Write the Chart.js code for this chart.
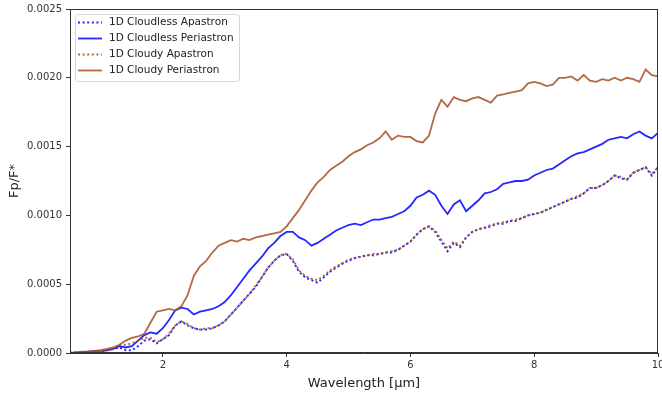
<!DOCTYPE html>
<html>
<head>
<meta charset="utf-8">
<script src="https://cdn.jsdelivr.net/npm/chart.js@4/dist/chart.umd.min.js"></script>
<style>
  html, body { margin: 0; padding: 0; background: #fff; }
  #wrap { width: 662px; height: 394px; position: relative; }
</style>
</head>
<body>
<div id="wrap"><canvas id="c" width="662" height="394"></canvas></div>
<script>
// Wavelength grid (micron)
const wavelength = [0.5,0.6,0.7,0.8,0.9,1.0,1.1,1.2,1.3,1.4,1.5,1.6,1.7,1.8,1.9,2.0,2.1,2.2,2.3,2.4,2.5,2.6,2.7,2.8,2.9,3.0,3.1,3.2,3.3,3.4,3.5,3.6,3.7,3.8,3.9,4.0,4.1,4.2,4.3,4.4,4.5,4.6,4.7,4.8,4.9,5.0,5.1,5.2,5.3,5.4,5.5,5.6,5.7,5.8,5.9,6.0,6.1,6.2,6.3,6.4,6.5,6.6,6.7,6.8,6.9,7.0,7.1,7.2,7.3,7.4,7.5,7.6,7.7,7.8,7.9,8.0,8.1,8.2,8.3,8.4,8.5,8.6,8.7,8.8,8.9,9.0,9.1,9.2,9.3,9.4,9.5,9.6,9.7,9.8,9.9,10.0];

const cloudlessApastron = [0,0.000003,0.000005,0.000008,0.00001,
  0.000014,0.00002,0.00003,0.00004,0.00002,
  0.00002,0.00005,0.00009,0.0001,0.00007,
  0.0001,0.00013,0.0002,0.00023,0.0002,
  0.00018,0.00017,0.00017,0.00018,0.0002,
  0.00023,0.00028,0.00033,0.00038,0.00043,
  0.00048,0.00055,0.00062,0.00067,0.00071,
  0.00072,0.00067,0.00059,0.00055,0.00053,
  0.00051,0.00055,0.00059,0.00062,0.00065,
  0.00067,0.00069,0.0007,0.00071,0.00071,
  0.00072,0.00073,0.00073,0.00075,0.00078,
  0.00081,0.00086,0.0009,0.00092,0.00088,
  0.00081,0.00074,0.0008,0.00077,0.00084,
  0.00088,0.0009,0.00091,0.00092,0.00094,
  0.00094,0.00096,0.00096,0.00098,0.001,
  0.00101,0.00102,0.00104,0.00106,0.00108,
  0.0011,0.00112,0.00113,0.00116,0.0012,
  0.0012,0.00122,0.00125,0.00129,0.00127,
  0.00126,0.00131,0.00133,0.00135,0.00129,
  0.00135];

const cloudlessPeriastron = [0,0.000003,0.000006,0.00001,0.000013,
  0.000016,0.00002,0.00003,0.00005,0.00004,
  0.00005,0.00009,0.00013,0.00015,0.00014,
  0.00018,0.00024,0.00031,0.00033,0.00032,
  0.00028,0.0003,0.00031,0.00032,0.00034,
  0.00037,0.00042,0.00048,0.00054,0.0006,
  0.00065,0.0007,0.00076,0.0008,0.00085,
  0.00088,0.00088,0.00084,0.00082,0.00078,
  0.0008,0.00083,0.00086,0.00089,0.00091,
  0.00093,0.00094,0.00093,0.00095,0.00097,
  0.00097,0.00098,0.00099,0.00101,0.00103,
  0.00107,0.00113,0.00115,0.00118,0.00115,
  0.00107,0.00101,0.00108,0.00111,0.00103,
  0.00107,0.00111,0.00116,0.00117,0.00119,
  0.00123,0.00124,0.00125,0.00125,0.00126,
  0.00129,0.00131,0.00133,0.00134,0.00137,
  0.0014,0.00143,0.00145,0.00146,0.00148,
  0.0015,0.00152,0.00155,0.00156,0.00157,
  0.00156,0.00159,0.00161,0.00158,0.00156,
  0.0016];

const cloudyApastron = [0,0.000004,0.000006,0.000009,0.000012,
  0.000016,0.000022,0.00003,0.00006,0.00006,
  0.00007,0.00009,0.00011,0.00011,0.00008,
  0.0001,0.00014,0.0002,0.00023,0.00021,
  0.00018,0.00017,0.00018,0.00018,0.0002,
  0.00023,0.00028,0.00033,0.00038,0.00043,
  0.00049,0.00055,0.00062,0.00067,0.00071,
  0.00072,0.00068,0.0006,0.00056,0.00054,
  0.00053,0.00056,0.0006,0.00063,0.00065,
  0.00068,0.00069,0.0007,0.00071,0.00072,
  0.00072,0.00073,0.00074,0.00075,0.00078,
  0.00081,0.00086,0.0009,0.00092,0.00089,
  0.00082,0.00076,0.00081,0.00078,0.00084,
  0.00088,0.0009,0.00091,0.00093,0.00094,
  0.00095,0.00096,0.00097,0.00098,0.001,
  0.00101,0.00102,0.00104,0.00106,0.00108,
  0.0011,0.00112,0.00114,0.00116,0.0012,
  0.0012,0.00122,0.00125,0.00129,0.00128,
  0.00126,0.00131,0.00133,0.00135,0.0013,
  0.00135];

const cloudyPeriastron = [0,0.000005,0.00001,0.000012,0.000015,
  0.00002,0.00003,0.00004,0.00006,0.00009,
  0.00011,0.00012,0.00014,0.00022,0.0003,
  0.00031,0.00032,0.00031,0.00034,0.00042,
  0.00056,0.00063,0.00067,0.00073,0.00078,
  0.0008,0.00082,0.00081,0.00083,0.00082,
  0.00084,0.00085,0.00086,0.00087,0.00088,
  0.00092,0.00098,0.00104,0.00111,0.00118,
  0.00124,0.00128,0.00133,0.00136,0.00139,
  0.00143,0.00146,0.00148,0.00151,0.00153,
  0.00156,0.00161,0.00155,0.00158,0.00157,
  0.00157,0.00154,0.00153,0.00158,0.00174,
  0.00184,0.00179,0.00186,0.00184,0.00183,
  0.00185,0.00186,0.00184,0.00182,0.00187,
  0.00188,0.00189,0.0019,0.00191,0.00196,
  0.00197,0.00196,0.00194,0.00195,0.002,
  0.002,0.00201,0.00198,0.00202,0.00198,
  0.00197,0.00199,0.00198,0.002,0.00198,
  0.002,0.00199,0.00197,0.00206,0.00202,
  0.00201];

const seriesNames = ['1D Cloudless Apastron','1D Cloudless Periastron','1D Cloudy Apastron','1D Cloudy Periastron'];
const xTicks = [2,4,6,8,10];
const yTicks = [0,0.0005,0.001,0.0015,0.002,0.0025];

const BLUE = 'rgba(0,0,255,0.85)';
const BROWN = 'rgba(168,84,40,0.87)';
const DOT = [2,2.6];

function pts(ys){ return wavelength.map((w,i)=>({x:w,y:ys[i]})); }

const datasets = [
  {label:seriesNames[0], data:pts(cloudlessApastron), borderColor:BLUE, borderDash:DOT, borderWidth:2, order:3},
  {label:seriesNames[1], data:pts(cloudlessPeriastron), borderColor:BLUE, borderWidth:1.8, order:2},
  {label:seriesNames[2], data:pts(cloudyApastron), borderColor:BROWN, borderDash:DOT, borderWidth:2, order:1},
  {label:seriesNames[3], data:pts(cloudyPeriastron), borderColor:BROWN, borderWidth:1.8, order:0}
].map(d=>Object.assign({pointRadius:0, fill:false, tension:0}, d));

const FONT = "'DejaVu Sans', sans-serif";

const framePlugin = {
  id:'frame',
  afterDraw(chart){
    const {ctx, chartArea:a} = chart;
    ctx.save();
    ctx.strokeStyle = '#333';
    ctx.lineWidth = 1;
    ctx.setLineDash([]);
    ctx.strokeRect(Math.round(a.left)+0.5, Math.round(a.top)+0.5, Math.round(a.right-a.left)-1, Math.round(a.bottom-a.top)-1);
    // legend box
    const lx = 75.5, ly = 14.5, lw = 164, lh = 67, r = 3;
    ctx.beginPath();
    ctx.moveTo(lx+r, ly);
    ctx.arcTo(lx+lw, ly, lx+lw, ly+lh, r);
    ctx.arcTo(lx+lw, ly+lh, lx, ly+lh, r);
    ctx.arcTo(lx, ly+lh, lx, ly, r);
    ctx.arcTo(lx, ly, lx+lw, ly, r);
    ctx.closePath();
    ctx.fillStyle = 'rgba(255,255,255,0.8)';
    ctx.fill();
    ctx.strokeStyle = '#d6d6d6';
    ctx.stroke();
    chart.data.datasets.forEach((d,i)=>{
      const y = 22.5 + i*16;
      ctx.beginPath();
      ctx.strokeStyle = d.borderColor;
      ctx.lineWidth = d.borderDash ? 2 : 1.8;
      ctx.setLineDash(d.borderDash || []);
      ctx.moveTo(78, y);
      ctx.lineTo(102, y);
      ctx.stroke();
      ctx.setLineDash([]);
      ctx.fillStyle = '#222';
      ctx.font = "10.5px " + FONT;
      ctx.textBaseline = 'middle';
      ctx.textAlign = 'left';
      ctx.fillText(d.label, 109, y);
    });
    ctx.restore();
  }
};

new Chart(document.getElementById('c'), {
  type:'line',
  data:{datasets},
  options:{
    responsive:false,
    animation:false,
    devicePixelRatio:1,
    layout:{padding:{left:0, right:4, top:9, bottom:0}},
    plugins:{legend:{display:false}, tooltip:{enabled:false}},
    scales:{
      x:{
        type:'linear', min:0.5, max:10,
        afterBuildTicks(s){ s.ticks = xTicks.map(v=>({value:v})); },
        afterFit(s){ s.height = 41; s.paddingLeft = 0; s.paddingRight = 0; },
        grid:{display:true, drawOnChartArea:false, drawTicks:true, tickLength:4, color:'#333', tickColor:'#333'},
        border:{display:true, color:'#333', width:1},
        ticks:{color:'#333', font:{family:FONT, size:10}, padding:2, maxRotation:0, autoSkip:false,
          callback:(v)=>String(v)},
        title:{display:true, text:'Wavelength [μm]', color:'#222', font:{family:FONT, size:13}, padding:{top:0, bottom:3}}
      },
      y:{
        type:'linear', min:0, max:0.0025,
        afterBuildTicks(s){ s.ticks = yTicks.map(v=>({value:v})); },
        afterFit(s){ s.width = 70; s.paddingTop = 0; s.paddingBottom = 0; },
        grid:{display:true, drawOnChartArea:false, drawTicks:true, tickLength:4, color:'#333', tickColor:'#333'},
        border:{display:true, color:'#333', width:1},
        ticks:{color:'#333', font:{family:FONT, size:10}, padding:4, autoSkip:false,
          callback:(v)=>Number(v).toFixed(4)},
        title:{display:true, text:'Fp/F*', color:'#222', font:{family:FONT, size:13}, padding:{top:7, bottom:0}}
      }
    }
  },
  plugins:[framePlugin]
});
</script>
</body>
</html>
